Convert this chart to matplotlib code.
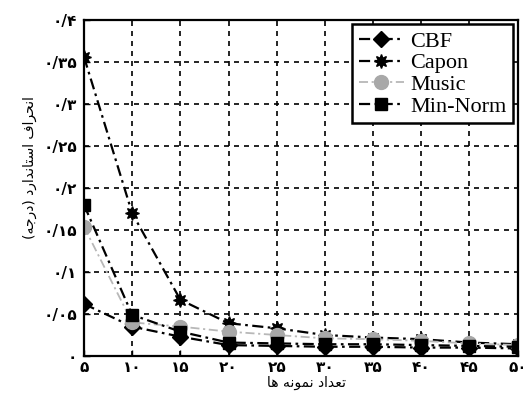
import matplotlib.pyplot as plt

# data
samples = [5, 10, 15, 20, 25, 30, 35, 40, 45, 50]
cbf = [0.062, 0.035, 0.023, 0.013, 0.012, 0.011, 0.011, 0.010, 0.010, 0.009]
capon = [0.356, 0.170, 0.067, 0.039, 0.033, 0.025, 0.022, 0.020, 0.016, 0.014]
music = [0.154, 0.040, 0.035, 0.029, 0.025, 0.021, 0.020, 0.018, 0.015, 0.013]
min_norm = [0.180, 0.049, 0.029, 0.016, 0.015, 0.014, 0.014, 0.013, 0.012, 0.011]

x_ticks = [5, 10, 15, 20, 25, 30, 35, 40, 45, 50]
y_ticks = [0, 0.05, 0.1, 0.15, 0.2, 0.25, 0.3, 0.35, 0.4]

x_label = "تعداد نمونه ها"
y_label = "انحراف استاندارد (درجه)"

# matplotlib does not shape Arabic script, so map letters to their
# presentation forms and put them in visual order
FORMS = {
    'ا': ('\uFE8D', '\uFE8E', None, None),
    'ب': ('\uFE8F', '\uFE90', '\uFE91', '\uFE92'),
    'ت': ('\uFE95', '\uFE96', '\uFE97', '\uFE98'),
    'ج': ('\uFE9D', '\uFE9E', '\uFE9F', '\uFEA0'),
    'ح': ('\uFEA1', '\uFEA2', '\uFEA3', '\uFEA4'),
    'د': ('\uFEA9', '\uFEAA', None, None),
    'ر': ('\uFEAD', '\uFEAE', None, None),
    'س': ('\uFEB1', '\uFEB2', '\uFEB3', '\uFEB4'),
    'ع': ('\uFEC9', '\uFECA', '\uFECB', '\uFECC'),
    'ف': ('\uFED1', '\uFED2', '\uFED3', '\uFED4'),
    'م': ('\uFEE1', '\uFEE2', '\uFEE3', '\uFEE4'),
    'ن': ('\uFEE5', '\uFEE6', '\uFEE7', '\uFEE8'),
    'ه': ('\uFEE9', '\uFEEA', '\uFEEB', '\uFEEC'),
    'و': ('\uFEED', '\uFEEE', None, None),
}


def shape(text):
    out = []
    for i, ch in enumerate(text):
        if ch not in FORMS:
            out.append(ch)
            continue
        prev = text[i - 1] if i > 0 else ''
        nxt = text[i + 1] if i + 1 < len(text) else ''
        join_prev = prev in FORMS and FORMS[prev][2] is not None
        join_next = nxt in FORMS and FORMS[ch][2] is not None
        iso, fin, ini, med = FORMS[ch]
        if join_prev and join_next:
            out.append(med)
        elif join_prev:
            out.append(fin)
        elif join_next:
            out.append(ini)
        else:
            out.append(iso)
    vis = ''.join(reversed(out))
    return vis.translate(str.maketrans('()', ')('))


def fa_num(s):
    return s.translate(str.maketrans('0123456789.', '۰۱۲۳۴۵۶۷۸۹/'))


plt.figure(figsize=(5.23, 4), dpi=100)
ax = plt.axes([0.1606, 0.11, 0.829, 0.84])

dd = (5, 2, 1.2, 2)
ax.plot(samples, cbf, '-.', dashes=dd, color='black', lw=1.6, marker='D', ms=8, label='CBF')
ax.plot(samples, capon, '-.', dashes=dd, color='black', lw=1.6, marker=(8, 1, 0), ms=10, label='Capon')
ax.plot(samples, music, '-.', dashes=dd, color='#b8b8b8', lw=1.3, marker='o', ms=10,
        markeredgecolor='#a8a8a8', markerfacecolor='#a8a8a8', label='Music')
ax.plot(samples, min_norm, '-.', dashes=dd, color='black', lw=1.6, marker='s', ms=9, label='Min-Norm')

ax.set_xlim(5, 50)
ax.set_ylim(0, 0.4)
ax.set_xticks(x_ticks)
ax.set_xticklabels([fa_num(str(v)) for v in x_ticks], fontsize=11, fontweight='bold')
ax.set_yticks(y_ticks)
ax.set_yticklabels([fa_num(('%g' % v)) for v in y_ticks], fontsize=11, fontweight='bold')
ax.tick_params(direction='in', length=4, width=1, pad=5)
ax.tick_params(axis='x', pad=3)

ax.grid(True, color='black', linestyle='--', linewidth=1.2, dashes=(3, 3))
for s in ax.spines.values():
    s.set_linewidth(1.6)

ax.set_xlabel(shape(x_label), fontsize=10, va='center')
ax.xaxis.set_label_coords(0.513, -0.08)
ax.set_ylabel(shape(y_label), fontsize=10, va='center')
ax.yaxis.set_label_coords(-0.125, 0.56)

leg = ax.legend(loc='upper right', prop={'family': 'Liberation Serif', 'size': 16},
                fancybox=False, framealpha=1, edgecolor='black',
                borderaxespad=0.2, handlelength=2.0, handletextpad=0.3,
                labelspacing=0.05, borderpad=0.3)
leg.get_frame().set_linewidth(1.8)

plt.savefig('out.png', dpi=100)
